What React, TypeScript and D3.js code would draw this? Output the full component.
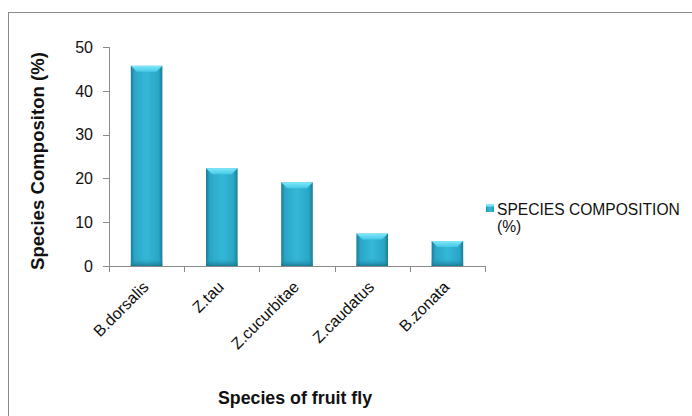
import React from "react";
import * as d3 from "d3";

const categories = ["B.dorsalis", "Z.tau", "Z.cucurbitae", "Z.caudatus", "B.zonata"];
const values = [45.7, 22.3, 19.1, 7.4, 5.7];
const yTicks = [0, 10, 20, 30, 40, 50];
const seriesName = ["SPECIES COMPOSITION", "(%)"];

const W = 692;
const H = 416;
const left = 109;
const right = 485;
const top = 47;
const bottom = 266;

export default function App() {
  const x = d3.scaleBand<string>().domain(categories).range([left, right]).paddingInner(0.58).paddingOuter(0.29);
  const band = d3.scaleBand<string>().domain(categories).range([left, right]);
  const y = d3.scaleLinear().domain([0, 50]).range([bottom, top]);
  const font = "'Liberation Sans', Arial, sans-serif";
  const bw = x.bandwidth();
  const bevel = 6;
  return (
    <svg width={W} height={H} style={{ position: "absolute", left: 0, top: 0 }} xmlns="http://www.w3.org/2000/svg">
      <defs>
        <linearGradient id="barH" x1="0" y1="0" x2="1" y2="0">
          <stop offset="0" stopColor="#1b7b95" />
          <stop offset="0.12" stopColor="#2aa6c6" />
          <stop offset="0.5" stopColor="#35b8d8" />
          <stop offset="0.88" stopColor="#2aa6c6" />
          <stop offset="1" stopColor="#1b7b95" />
        </linearGradient>
        <linearGradient id="capG" x1="0" y1="0" x2="0" y2="1">
          <stop offset="0" stopColor="#7fe8fa" />
          <stop offset="1" stopColor="#45c8e6" />
        </linearGradient>
        <linearGradient id="botG" x1="0" y1="0" x2="0" y2="1">
          <stop offset="0" stopColor="#2aa6c6" stopOpacity="0" />
          <stop offset="1" stopColor="#16708a" stopOpacity="0.8" />
        </linearGradient>
      </defs>
      <rect x={0} y={0} width={W} height={H} fill="#fff" />
      <rect x={8.5} y={12.5} width={W} height={H} fill="none" stroke="#8a8a8a" strokeWidth={1} />

      {/* bars */}
      {categories.map((c, i) => {
        const x0 = x(c)!;
        const y0 = y(values[i]);
        const h = bottom - y0;
        return (
          <g key={c}>
            <rect x={x0} y={y0} width={bw} height={h} fill="url(#barH)" />
            <rect x={x0} y={bottom - Math.min(8, h)} width={bw} height={Math.min(8, h)} fill="url(#botG)" />
            <polygon
              points={`${x0},${y0} ${x0 + bw},${y0} ${x0 + bw - bevel},${y0 + bevel} ${x0 + bevel},${y0 + bevel}`}
              fill="url(#capG)"
            />
          </g>
        );
      })}

      {/* y axis */}
      <line x1={left + 0.5} x2={left + 0.5} y1={top} y2={bottom} stroke="#8a8a8a" />
      {yTicks.map((t) => (
        <g key={t}>
          <line x1={left - 6} x2={left} y1={Math.round(y(t)) + 0.5} y2={Math.round(y(t)) + 0.5} stroke="#8a8a8a" />
          <text x={93} y={y(t)} dy="0.36em" textAnchor="end" fontFamily={font} fontSize={16} fill="#111">
            {t}
          </text>
        </g>
      ))}

      {/* x axis */}
      <line x1={left} x2={right + 0.5} y1={bottom + 0.5} y2={bottom + 0.5} stroke="#8a8a8a" />
      {[...categories.map((c) => band(c)!), right].map((bx, i) => (
        <line key={i} x1={Math.round(bx) + 0.5} x2={Math.round(bx) + 0.5} y1={bottom} y2={bottom + 6} stroke="#8a8a8a" />
      ))}
      {categories.map((c) => {
        const cx = band(c)! + band.bandwidth() / 2;
        return (
          <text
            key={c}
            transform={`translate(${cx + 3},${288}) rotate(-45)`}
            textAnchor="end"
            fontFamily={font}
            fontSize={16}
            fill="#111"
          >
            {c}
          </text>
        );
      })}

      {/* axis titles */}
      <text x={(left + right) / 2 - 2} y={404} textAnchor="middle" fontFamily={font} fontSize={17.8} fontWeight="bold" fill="#111">
        Species of fruit fly
      </text>
      <text
        transform={`translate(${44},${161}) rotate(-90)`}
        textAnchor="middle"
        fontFamily={font}
        fontSize={18.6}
        fontWeight="bold"
        fill="#111"
      >
        Species Compositon (%)
      </text>

      {/* legend */}
      <rect x={486} y={204} width={8} height={8} fill="url(#barH)" />
      <rect x={486} y={204} width={8} height={2.5} fill="#7fe8fa" />
      {seriesName.map((s, i) => (
        <text key={s} x={497} y={215 + i * 17} fontFamily={font} fontSize={15.6} fill="#111">
          {s}
        </text>
      ))}
    </svg>
  );
}
